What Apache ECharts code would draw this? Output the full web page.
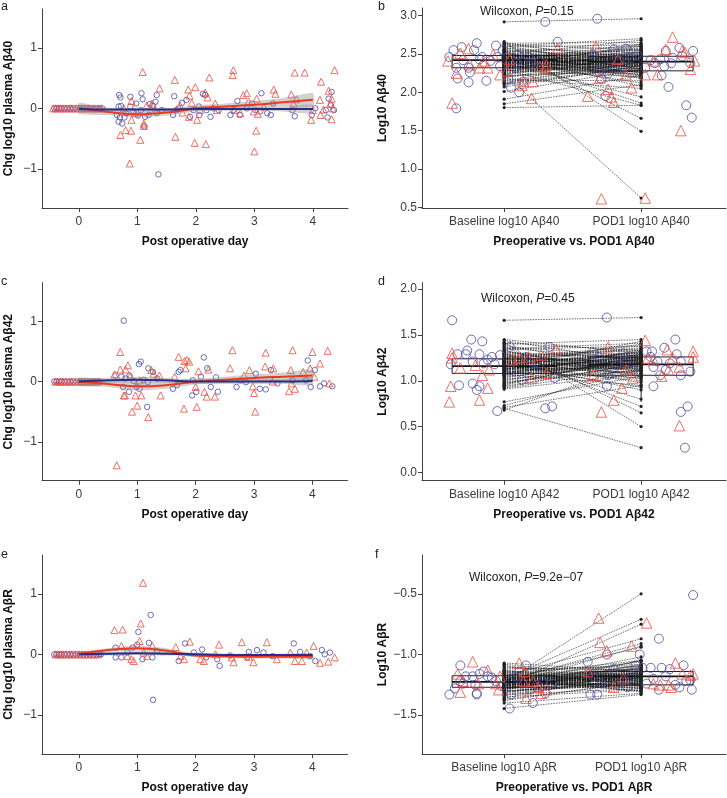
<!DOCTYPE html>
<html><head><meta charset="utf-8">
<script src="https://cdn.jsdelivr.net/npm/echarts@6/dist/echarts.min.js"></script>
<style>html,body{margin:0;padding:0;background:#fff}#c{width:727px;height:798px}</style>
</head><body><div id="c"></div>
<script>
// ---------------- DATA ----------------
const dayTicks = [0, 1, 2, 3, 4];
const leftYTicks = [-1, 0, 1];
const leftYTitles = ['Chg log10 plasma Aβ40', 'Chg log10 plasma Aβ42', 'Chg log10 plasma AβR'];
const leftXTitle = 'Post operative day';
const panelLetters = ['a', 'b', 'c', 'd', 'e', 'f'];

// smoothing curves (day, fit, lower, upper)
const smoothDays = [0, 0.5, 1, 1.5, 2, 2.5, 3, 3.5, 4];
const redFitA = [0, -0.06, -0.10, -0.07, 0.0, 0.03, 0.06, 0.10, 0.14];
const redLoA = [-0.09, -0.11, -0.15, -0.12, -0.05, -0.02, 0.0, 0.03, 0.03];
const redHiA = [0.09, -0.01, -0.05, -0.02, 0.05, 0.08, 0.12, 0.17, 0.25];
const blueFitA = [-0.01, -0.02, -0.02, -0.02, -0.01, -0.01, -0.01, -0.01, -0.01];
const blueLoA = [-0.06, -0.05, -0.05, -0.05, -0.04, -0.04, -0.04, -0.05, -0.08];
const blueHiA = [0.04, 0.01, 0.01, 0.01, 0.02, 0.02, 0.02, 0.03, 0.06];

const redFitC = [0, -0.04, -0.08, -0.06, 0.0, 0.03, 0.06, 0.08, 0.10];
const redLoC = [-0.07, -0.09, -0.15, -0.12, -0.05, -0.02, 0.0, 0.01, 0.0];
const redHiC = [0.07, 0.01, -0.01, 0.0, 0.05, 0.08, 0.12, 0.15, 0.20];
const blueFitC = [0, 0.02, 0.03, 0.02, 0.0, 0.0, 0.0, 0.0, 0.01];
const blueLoC = [-0.05, -0.02, -0.02, -0.02, -0.04, -0.04, -0.04, -0.04, -0.06];
const blueHiC = [0.05, 0.06, 0.08, 0.06, 0.04, 0.04, 0.04, 0.04, 0.08];

const redFitE = [0, 0.07, 0.10, 0.06, -0.02, -0.03, -0.04, -0.04, -0.04];
const redLoE = [-0.03, 0.04, 0.06, 0.02, -0.05, -0.06, -0.07, -0.07, -0.08];
const redHiE = [0.03, 0.10, 0.14, 0.10, 0.01, 0.0, -0.01, -0.01, 0.0];
const blueFitE = [0, 0.01, 0.02, 0.01, 0, -0.01, -0.01, -0.01, -0.01];
const blueLoE = [-0.02, -0.02, -0.01, -0.02, -0.03, -0.03, -0.03, -0.03, -0.04];
const blueHiE = [0.02, 0.04, 0.05, 0.04, 0.03, 0.01, 0.01, 0.01, 0.02];

// scatter points (day, change)
const circA = [[-0.42,0],[-0.38,0],[-0.34,0],[-0.3,0],[-0.25,0],[-0.2,0],[-0.15,0],[-0.1,0],[-0.04,0],[0.02,0],[0.08,0],[0.13,0],[0.19,0],[0.25,0],[0.3,0],[0.35,0],[0.4,0],
 [0.69,0.22],[0.71,0.18],[0.68,0.03],[0.72,0.04],[0.65,-0.11],[0.68,-0.22],[0.74,-0.25],[0.70,-0.15],[0.78,-0.15],[0.88,0.19],[0.88,0.03],[0.93,-0.05],[0.98,0.08],[1.07,0.25],[1.09,0.15],[1.06,-0.03],[1.13,-0.14],[1.12,-0.30],[1.19,-0.11],[1.21,0.07],[1.27,0.04],[1.33,0.22],[1.31,0.11],[1.36,-1.09],[1.33,-0.08],[1.42,-0.03],[0.81,-0.08],[1.01,-0.12],
 [1.63,0.20],[1.67,-0.03],[1.61,-0.11],[1.76,0.09],[1.84,0.14],[1.90,-0.14],[2.05,0.03],[2.06,-0.11],[2.12,0.24],[2.16,0.22],[2.18,-0.03],[2.25,-0.14],[2.30,0],[2.39,-0.03],[1.96,-0.03],[1.70,0],
 [2.64,-0.03],[2.71,0.12],[2.75,-0.11],[2.87,0],[2.96,0.08],[3.12,0.25],[3.10,-0.05],[3.22,-0.08],[3.28,-0.11],[3.32,0.08],[2.59,-0.11],[3.02,-0.03],
 [3.65,-0.03],[3.69,-0.13],[3.98,-0.11],[4.22,-0.03],[4.27,0.16],[4.32,0.27],[4.31,0.05],[4.25,-0.15],[4.36,-0.03],[4.04,0]];
const triA = [[-0.44,0],[-0.4,0],[-0.36,0],[-0.31,0],[-0.27,0],[-0.22,0],[-0.16,0],[-0.12,0],[-0.06,0],[0.0,0],[0.05,0],[0.1,0],[0.16,0],[0.22,0],[0.27,0],[0.33,0],[0.38,0],
 [1.09,0.60],[0.71,-0.44],[0.87,-0.91],[0.80,-0.36],[0.89,-0.37],[1.05,-0.52],[1.11,-0.25],[1.11,-0.29],[0.90,-0.19],[0.90,0.12],[0.77,0],[1.38,0.33],[1.25,0.08],[1.16,0.05],[1.30,-0.03],[0.96,-0.08],
 [1.64,0.47],[1.65,-0.47],[1.98,-0.57],[2.17,-0.59],[2.23,0.51],[1.99,0.35],[1.87,0.31],[1.89,0.21],[2.16,0.26],[2.20,0.18],[2.02,-0.19],[1.88,-0.14],[1.73,0.05],[1.93,0.09],[2.33,0.08],[2.07,-0.03],[2.36,-0.03],[1.77,-0.07],
 [2.64,0.63],[2.63,0.55],[3.0,-0.71],[3.03,-0.37],[2.87,0.25],[2.81,0.22],[3.04,0.16],[3.33,0.31],[3.36,0.24],[2.90,0.11],[2.99,-0.05],[3.06,-0.09],[2.66,-0.03],[3.16,0.03],[2.76,-0.08],
 [3.69,0.59],[3.86,0.59],[4.37,0.63],[4.14,0.44],[4.27,0.29],[4.32,0.16],[4.12,0.14],[3.63,0.23],[3.72,0.15],[3.97,-0.19],[4.32,-0.18],[4.13,-0.11],[4.18,-0.02],[4.34,0],[4.0,-0.03],[3.67,0.08],[4.30,0.08]];

const circC = [[-0.42,0],[-0.38,0],[-0.34,0],[-0.3,0],[-0.25,0],[-0.2,0],[-0.15,0],[-0.1,0],[-0.04,0],[0.02,0],[0.08,0],[0.13,0],[0.19,0],[0.25,0],[0.3,0],[0.35,0],
 [0.77,1.01],[1.17,-0.42],[2.14,0.40],[1.06,0.33],[1.03,0.29],[1.19,0.22],[1.27,0.16],[0.63,0.10],[0.73,0.08],[0.80,0.05],[0.87,0.10],[0.94,0.01],[0.99,-0.09],[0.86,-0.17],[0.76,-0.09],[1.11,0.03],[1.18,-0.01],[1.04,-0.12],[1.34,0.05],
 [1.71,0.16],[1.74,0.19],[1.61,-0.12],[1.68,-0.06],[1.94,-0.23],[2.01,-0.17],[1.95,0.02],[2.09,0.08],[2.20,0.22],[2.26,-0.09],[2.38,-0.17],[2.35,0.07],
 [2.70,-0.09],[2.86,-0.01],[3.03,0.13],[3.10,-0.12],[3.20,-0.13],[3.29,0.19],[3.40,-0.03],[2.77,0.02],
 [3.92,0.35],[4.04,0.19],[3.97,-0.09],[4.13,-0.08],[4.20,-0.03],[4.34,-0.08],[3.89,0.02],[3.66,0.02]];
const triC = [[-0.4,0],[-0.36,0],[-0.31,0],[-0.27,0],[-0.22,0],[-0.16,0],[-0.12,0],[-0.06,0],[0.0,0],[0.05,0],[0.1,0],[0.16,0],[0.22,0],[0.27,0],[0.33,0],
 [0.65,-1.39],[0.71,0.49],[0.61,0.12],[0.71,0.20],[0.84,0.27],[0.80,0.20],[0.77,-0.23],[0.79,-0.23],[0.91,-0.50],[1.00,-0.40],[0.97,-0.23],[1.07,-0.23],[1.19,-0.59],[1.24,0.19],[1.28,0.13],[1.40,-0.23],[1.04,0.02],[0.88,0.08],[1.38,0.10],
 [1.71,0.41],[1.81,0.34],[1.85,0.36],[1.89,0.33],[1.83,0.22],[1.80,-0.45],[2.02,-0.42],[2.05,0.17],[2.22,0.20],[2.19,-0.25],[2.33,-0.25],[2.15,-0.17],[2.0,-0.09],[1.64,0.08],
 [2.63,0.52],[2.59,0.22],[2.92,0.19],[3.02,-0.50],[3.0,-0.19],[3.2,0.48],[3.19,0.25],[3.33,0.22],[2.83,0.10],[2.98,-0.08],[3.32,0.0],
 [3.66,0.52],[4.0,0.49],[4.26,0.51],[4.13,0.30],[3.96,0.22],[3.63,0.19],[3.60,-0.16],[3.70,-0.12],[3.84,0.16],[4.03,0.08],[4.29,-0.03],[3.64,-0.03]];

const circE = [[-0.42,0],[-0.38,0],[-0.34,0],[-0.3,0],[-0.25,0],[-0.2,0],[-0.15,0],[-0.1,0],[-0.04,0],[0.02,0],[0.08,0],[0.13,0],[0.19,0],[0.25,0],[0.3,0],[0.35,0],[0.38,0],
 [1.23,0.65],[1.27,-0.75],[1.02,0.37],[1.00,0.16],[1.20,0.19],[0.63,0.11],[0.63,-0.05],[0.73,-0.05],[0.92,0.11],[1.09,-0.08],[1.26,-0.05],[1.34,0.05],[0.83,0.03],
 [1.82,0.18],[1.71,-0.11],[1.97,0.03],[2.11,0.08],[2.18,-0.05],[2.41,-0.19],[2.37,-0.08],
 [2.59,-0.02],[2.91,0.04],[3.05,0.07],[3.16,0.03],[3.32,-0.03],[2.88,-0.05],
 [3.68,0.18],[3.79,0.04],[4.16,0.07],[4.21,0],[4.30,0.03],[4.05,-0.11],[3.96,-0.03]];
const triE = [[-0.4,0],[-0.36,0],[-0.31,0],[-0.27,0],[-0.22,0],[-0.16,0],[-0.12,0],[-0.06,0],[0.0,0],[0.05,0],[0.1,0],[0.16,0],[0.22,0],[0.27,0],[0.33,0],
 [1.10,1.18],[1.06,0.51],[0.61,0.40],[0.75,0.41],[1.04,0.22],[0.73,0.14],[0.90,-0.08],[0.94,-0.11],[0.83,-0.03],[1.11,0.03],[1.26,0.14],[1.17,-0.03],
 [1.66,0.12],[1.90,0.21],[1.80,-0.08],[1.74,-0.03],[2.08,-0.08],[2.14,-0.11],[2.40,0.16],[2.34,0],
 [2.62,-0.05],[2.65,-0.13],[2.79,0.20],[2.99,-0.13],[3.22,0.20],[3.39,-0.08],[2.91,-0.04],
 [4.02,0.14],[3.70,-0.11],[3.82,-0.11],[4.13,-0.14],[4.27,-0.12],[4.38,-0.05],[3.90,0.03],[3.62,0.03]];

// right panels
const catLabelsB = ['Baseline log10 Aβ40', 'POD1 log10 Aβ40'];
const catLabelsD = ['Baseline log10 Aβ42', 'POD1 log10 Aβ42'];
const catLabelsF = ['Baseline log10 AβR', 'POD1 log10 AβR'];
const rightXTitles = ['Preoperative vs. POD1 Aβ40', 'Preoperative vs. POD1 Aβ42', 'Preoperative vs. POD1 AβR'];
const rightYTitles = ['Log10 Aβ40', 'Log10 Aβ42', 'Log10 AβR'];
const pLabels = ['0.15', '0.45', '9.2e−07'];
const yTicksB = [0.5, 1.0, 1.5, 2.0, 2.5, 3.0];
const yTicksD = [0.0, 0.5, 1.0, 1.5, 2.0];
const yTicksF = [-1.5, -1.0, -0.5];

// box stats: [min, q1, median, q3, max] for baseline, POD1
const boxB = [[2.07, 2.32, 2.42, 2.48, 2.67], [2.04, 2.28, 2.40, 2.47, 2.70]];
const boxD = [[0.89, 1.08, 1.16, 1.24, 1.45], [0.77, 1.06, 1.18, 1.26, 1.46]];
const boxF = [[-1.40, -1.27, -1.225, -1.175, -1.07], [-1.33, -1.25, -1.18, -1.14, -1.02]];

// paired values (baseline, POD1)
const baseB = [2.92,2.24,2.07,2.01,1.91,1.85,1.80,2.66,2.55,2.45,2.38,2.30,
 2.62,2.60,2.58,2.57,2.55,2.53,2.52,2.50,2.49,2.48,2.48,2.47,2.46,2.46,2.45,2.44,2.44,2.43,2.43,2.42,2.42,2.41,2.41,2.41,2.40,2.40,2.39,2.39,2.38,2.37,2.36,2.35,2.34,2.33,2.32,2.32,2.31,2.30,2.28,2.26,2.24,2.22,2.20,2.18,2.15,2.12,2.10,2.64,2.47,2.36,2.29,
 2.65,2.63,2.61,2.59,2.56,2.54,2.51,2.50,2.49,2.47,2.46,2.45,2.44,2.43,2.42,2.41,2.40,2.39,2.38,2.37,2.36,2.35,2.34,2.33,2.31,2.29,2.27,2.25,2.23,2.21,2.19,2.16,2.13,2.11,2.52,2.48,2.44,2.40,2.36,2.32,2.28,2.45,2.42,2.38,2.34];
const podB = [2.96,0.62,2.35,2.30,2.22,2.10,1.83,1.49,1.66,1.86,1.94,1.83,
 2.45,2.70,2.38,2.52,2.31,2.60,2.44,2.28,2.47,2.55,2.36,2.40,2.21,2.50,2.33,2.42,2.58,2.26,2.46,2.39,2.18,2.49,2.35,2.43,2.12,2.41,2.53,2.30,2.45,2.27,2.48,2.37,2.62,2.40,2.24,2.44,2.34,2.51,2.42,2.38,2.46,2.29,2.36,2.05,2.43,2.39,2.32,2.65,2.08,2.47,2.20,
 2.38,2.55,2.30,2.62,2.41,2.48,2.25,2.36,2.68,2.44,2.19,2.52,2.40,2.33,2.57,2.46,2.27,2.50,2.42,2.35,2.60,2.23,2.47,2.39,2.44,2.31,2.53,2.37,2.43,2.28,2.49,2.15,2.40,2.34,2.22,2.45,2.38,2.56,2.41,2.47,2.35,2.30,2.63,2.44,2.26];
const baseD = [1.66,0.70,0.77,0.73,0.71,0.68,1.42,1.38,1.30,1.25,1.20,
 1.45,1.40,1.36,1.34,1.32,1.30,1.28,1.27,1.26,1.25,1.24,1.23,1.22,1.21,1.20,1.19,1.18,1.17,1.16,1.16,1.15,1.14,1.13,1.12,1.11,1.10,1.09,1.08,1.07,1.05,1.03,1.01,0.99,0.97,0.95,0.93,0.91,1.19,1.24,1.13,1.06,1.29,1.17,
 1.44,1.41,1.39,1.37,1.35,1.33,1.31,1.29,1.27,1.26,1.24,1.23,1.22,1.21,1.20,1.19,1.18,1.17,1.16,1.15,1.14,1.13,1.12,1.11,1.10,1.09,1.08,1.06,1.04,1.02,1.00,0.98,0.96,0.94,0.92,1.25,1.21,1.17,1.13,1.09];
const podD = [1.69,0.27,1.05,1.12,0.95,1.20,0.50,0.65,0.72,0.80,0.90,
 1.30,1.45,1.22,1.38,1.10,1.25,1.33,1.15,1.28,1.20,1.02,1.24,1.35,1.12,1.27,1.08,1.21,1.30,1.17,1.00,1.23,1.19,1.26,1.14,1.32,1.18,1.22,1.29,0.95,1.16,1.25,1.20,1.11,1.24,1.28,1.19,1.07,1.40,1.13,1.23,1.21,1.04,1.31,
 1.20,1.33,1.12,1.27,1.41,1.05,1.24,1.18,1.30,1.10,1.36,1.22,1.15,1.28,0.98,1.25,1.19,1.32,1.08,1.23,1.43,1.14,1.26,1.20,1.03,1.29,1.17,1.34,1.21,1.11,1.24,1.16,1.27,1.19,1.13,1.38,1.22,0.93,1.26,1.18];
const baseF = [-1.23,-1.20,-1.26,-1.18,-1.22,-1.25,-1.21,-1.28,-1.445,
 -1.07,-1.10,-1.12,-1.14,-1.15,-1.16,-1.17,-1.18,-1.18,-1.19,-1.20,-1.20,-1.21,-1.21,-1.22,-1.22,-1.23,-1.23,-1.24,-1.24,-1.25,-1.25,-1.26,-1.26,-1.27,-1.27,-1.28,-1.29,-1.30,-1.31,-1.32,-1.33,-1.35,-1.37,-1.40,-1.19,-1.22,-1.24,-1.16,-1.29,-1.13,-1.26,-1.20,
 -1.08,-1.09,-1.11,-1.13,-1.15,-1.17,-1.19,-1.20,-1.21,-1.22,-1.23,-1.24,-1.25,-1.26,-1.27,-1.28,-1.29,-1.30,-1.31,-1.33,-1.34,-1.36,-1.38,-1.18,-1.21,-1.23,-1.25,-1.27,-1.22,-1.20,-1.24,-1.26,-1.16,-1.28,-1.19,-1.23,-1.21,-1.25,-1.30,-1.14];
const podF = [-0.50,-0.71,-0.75,-0.87,-0.91,-0.93,-0.94,-1.05,-1.33,
 -1.14,-1.20,-1.10,-1.25,-1.17,-1.22,-1.05,-1.19,-1.28,-1.12,-1.23,-1.16,-1.30,-1.18,-1.09,-1.21,-1.15,-1.26,-1.19,-1.02,-1.24,-1.17,-1.20,-1.13,-1.27,-1.18,-1.22,-1.11,-1.25,-1.21,-1.16,-1.19,-1.29,-1.23,-1.32,-1.20,-1.14,-1.24,-1.18,-1.08,-1.26,-1.15,-1.21,
 -1.19,-1.26,-1.13,-1.22,-1.08,-1.24,-1.17,-1.30,-1.12,-1.20,-1.27,-1.15,-1.21,-1.05,-1.18,-1.25,-1.10,-1.23,-1.16,-1.28,-1.19,-1.14,-1.22,-1.31,-1.06,-1.17,-1.24,-1.20,-1.12,-1.26,-1.18,-1.09,-1.23,-1.15,-1.21,-1.28,-1.11,-1.19,-1.25,-1.16];

// jittered points (jittered group position, value)
const jCircB = [[0.60,2.46],[0.63,2.55],[0.65,2.32],[0.66,2.18],[0.69,2.59],[0.70,2.42],[0.74,2.32],[0.74,2.13],[0.75,2.26],[0.78,2.55],[0.80,2.64],[0.82,2.43],[0.84,2.46],[0.87,2.15],[0.90,2.41],[0.94,2.61],[0.95,2.46],[0.97,2.34],[0.99,2.55],[1.03,2.17],[1.05,2.06],[1.08,2.32],[1.10,2.49],[1.11,2.00],[1.14,2.14],[1.18,2.46],[1.20,2.38],[1.30,2.92],[1.39,2.66],[0.65,1.79],[1.26,2.41],[1.09,2.38],
 [1.68,2.96],[1.65,2.49],[1.69,2.27],[1.71,2.17],[1.74,1.95],[1.76,2.25],[1.78,2.43],[1.80,2.56],[1.84,2.41],[1.87,2.34],[1.89,2.57],[1.93,2.45],[1.97,2.49],[2.03,2.32],[2.07,2.42],[2.10,2.38],[2.14,2.43],[2.15,2.22],[2.17,2.34],[2.18,2.54],[2.20,2.07],[2.22,2.38],[2.28,2.58],[2.30,2.47],[2.33,1.83],[2.37,1.67],[2.38,2.54],[2.36,2.38],[2.23,2.45]];
const jTriB = [[0.59,2.41],[0.62,1.86],[0.65,2.25],[0.68,2.51],[0.74,2.57],[0.75,2.36],[0.82,2.32],[0.85,2.41],[0.88,2.32],[0.92,2.49],[0.97,2.23],[1.02,2.28],[1.04,2.43],[1.13,2.09],[1.14,2.14],[1.20,1.92],[1.21,2.14],[1.26,2.34],[1.31,2.36],[1.39,2.57],[1.30,2.32],
 [1.61,1.95],[1.67,2.60],[1.71,0.61],[1.70,2.19],[1.76,2.04],[1.78,1.94],[1.80,1.87],[1.83,2.43],[1.89,2.23],[1.93,2.06],[2.03,0.62],[2.03,2.23],[2.09,2.41],[2.12,2.23],[2.18,2.56],[2.23,2.72],[2.29,1.50],[2.30,2.54],[2.32,2.52],[2.36,2.30],[2.39,2.41]];
const jCircD = [[0.62,1.66],[0.61,1.18],[0.67,0.95],[0.66,1.29],[0.72,1.29],[0.73,1.33],[0.76,1.45],[0.77,0.97],[0.77,1.21],[0.80,0.90],[0.82,1.29],[0.82,0.94],[0.84,1.43],[0.85,1.19],[0.88,1.23],[0.91,1.26],[0.93,1.18],[0.95,0.67],[0.97,1.28],[1.04,1.37],[1.05,1.12],[1.13,1.01],[1.21,1.12],[1.30,0.70],[1.35,0.72],[1.33,1.37],[1.37,1.03],[1.26,1.19],[1.16,1.26],
 [1.75,1.69],[1.65,1.31],[1.69,1.26],[1.75,0.94],[1.76,1.06],[1.82,1.17],[1.87,1.30],[1.89,1.21],[1.94,1.12],[2.04,1.32],[2.07,1.26],[2.08,1.32],[2.09,0.94],[2.12,1.21],[2.14,1.06],[2.17,1.36],[2.18,1.12],[2.25,1.45],[2.26,1.29],[2.29,1.06],[2.29,0.66],[2.32,0.27],[2.34,0.72],[2.36,1.10],[2.29,1.21],[2.09,1.15],[2.21,1.19]];
const jTriD = [[0.62,1.30],[0.62,1.25],[0.61,0.94],[0.60,0.77],[0.68,1.14],[0.79,1.17],[0.82,0.79],[0.84,1.06],[0.88,0.92],[0.89,1.12],[1.06,1.23],[1.11,1.25],[1.18,1.26],[1.20,1.03],[1.27,1.28],[1.38,1.34],[1.31,1.08],
 [1.71,0.66],[1.76,1.37],[1.80,0.79],[1.86,0.92],[1.65,1.06],[1.89,1.12],[1.94,1.03],[2.03,1.44],[2.05,1.25],[2.09,1.23],[2.15,1.05],[2.19,1.34],[2.20,1.12],[2.23,1.25],[2.28,0.51],[2.28,1.15],[2.38,1.32],[2.38,1.26]];
const jCircF = [[0.60,-1.33],[0.64,-1.28],[0.68,-1.09],[0.68,-1.22],[0.70,-1.24],[0.72,-1.18],[0.77,-1.18],[0.79,-1.25],[0.80,-1.32],[0.80,-1.33],[0.82,-1.16],[0.85,-1.14],[0.88,-1.18],[0.91,-1.19],[0.94,-1.22],[0.98,-1.26],[1.04,-1.445],[1.05,-1.33],[1.08,-1.18],[1.11,-1.14],[1.13,-1.24],[1.16,-1.09],[1.19,-1.29],[1.21,-1.40],[1.24,-1.25],[1.28,-1.22],[1.30,-1.32],[1.35,-1.24],
 [1.63,-1.33],[1.68,-1.33],[1.61,-1.06],[1.65,-1.18],[1.71,-1.24],[1.75,-1.00],[1.80,-1.12],[1.83,-1.24],[1.90,-1.27],[1.93,-1.18],[1.96,-1.09],[1.99,-1.00],[2.01,-1.11],[2.04,-1.24],[2.07,-1.11],[2.09,-1.20],[2.13,-0.87],[2.13,-1.29],[2.15,-1.11],[2.18,-1.18],[2.21,-1.12],[2.25,-1.25],[2.28,-1.27],[2.31,-1.09],[2.36,-1.21],[2.38,-0.51],[2.37,-1.29],[2.33,-1.22]];
const jTriF = [[0.77,-1.06],[0.68,-1.31],[0.66,-1.16],[0.70,-1.22],[0.81,-1.24],[0.88,-1.13],[0.94,-1.24],[0.96,-1.29],[0.97,-1.18],[1.11,-1.07],[1.15,-1.14],[1.16,-1.36],[1.21,-1.22],[1.25,-1.27],[1.27,-1.32],[1.31,-1.29],[1.14,-1.22],
 [1.69,-0.70],[1.70,-0.90],[1.75,-0.97],[1.93,-0.93],[2.04,-0.74],[1.61,-1.14],[1.80,-1.27],[1.87,-1.20],[2.09,-1.24],[2.14,-1.25],[2.20,-1.25],[2.25,-1.07],[2.30,-1.16],[2.36,-1.17],[2.38,-1.16],[2.22,-1.27]];

// ---------------- STYLE / BUILD ----------------
const FONT = '"Liberation Sans", Arial, Helvetica, sans-serif';
const AX = '#404040';
const RED = '#f04b3c', BLUE = '#4a4aa6';
const RED_LINE = '#ee3a1c', BLUE_LINE = '#2b2b88';
const minusFmt = d => v => (v < 0 ? '\u2212' : '') + Math.abs(v).toFixed(d);

const grids = [
  {left: 42, top: 9, width: 306, height: 199},
  {left: 422, top: 8, width: 304, height: 200},
  {left: 42, top: 282.7, width: 305.5, height: 198},
  {left: 422, top: 282.7, width: 304, height: 198},
  {left: 42, top: 555, width: 305.5, height: 199},
  {left: 422, top: 555, width: 304, height: 199}
].map(g => Object.assign(g, {containLabel: false, outerBoundsMode: 'none'}));

const nameStyle = {color: '#111', fontSize: 12, fontWeight: 'bold', fontFamily: FONT};
const labelStyle = {color: '#3a3a3a', fontSize: 12, fontFamily: FONT};

function axis(gi, min, max, ticks, fmt, name, gap, isY) {
  return {
    type: 'value', gridIndex: gi, min: min, max: max,
    name: name, nameLocation: 'middle', nameGap: gap, nameRotate: isY ? 90 : 0,
    nameTextStyle: nameStyle,
    axisLine: {show: true, onZero: false, lineStyle: {color: AX, width: 1}},
    axisTick: {show: true, customValues: ticks, length: 4, lineStyle: {color: AX, width: 1}},
    axisLabel: Object.assign({show: true, customValues: ticks, margin: isY ? 5 : 7.5, formatter: fmt}, labelStyle),
    splitLine: {show: false}
  };
}

const xAxes = [], yAxes = [], series = [];

function band(gi, xs, lo, hi) {
  return {
    type: 'custom', xAxisIndex: gi, yAxisIndex: gi, silent: true, z: 4, clip: true,
    data: xs.map((x, k) => [x, lo[k], hi[k]]),
    encode: {x: 0, y: [1, 2]},
    renderItem: (params, api) => {
      if (params.dataIndex !== 0) return null;
      const pts = [];
      for (let k = 0; k < xs.length; k++) pts.push(api.coord([xs[k], hi[k]]));
      for (let k = xs.length - 1; k >= 0; k--) pts.push(api.coord([xs[k], lo[k]]));
      return {type: 'polygon', shape: {points: pts, smooth: 0.2}, style: {fill: 'rgba(140,140,140,0.4)'}};
    }
  };
}
function smoothLine(gi, xs, ys, color) {
  return {type: 'line', xAxisIndex: gi, yAxisIndex: gi, data: xs.map((x, k) => [x, ys[k]]),
    smooth: 0.35, symbol: 'none', z: 5, lineStyle: {color: color, width: 2}, silent: true};
}
function scat(gi, pts, sym, color, size, z) {
  return {type: 'scatter', xAxisIndex: gi, yAxisIndex: gi, data: pts, symbol: sym, symbolSize: size, z: z || 2,
    itemStyle: {color: 'rgba(255,255,255,0)', borderColor: color, borderWidth: 1}, silent: true};
}

function leftPanel(gi, ytitle, circ, tri, rf, rl, rh, bf, bl, bh) {
  xAxes.push(axis(gi, -0.63, 4.6, dayTicks, v => String(v), leftXTitle, 28, false));
  yAxes.push(axis(gi, -1.645, 1.64, leftYTicks, minusFmt(0), ytitle, 27, true));
  series.push(scat(gi, circ, 'circle', BLUE, 5.5));
  series.push(scat(gi, tri, 'triangle', RED, 7));
  series.push(band(gi, smoothDays, rl, rh));
  series.push(band(gi, smoothDays, bl, bh));
  series.push(smoothLine(gi, smoothDays, rf, RED_LINE));
  series.push(smoothLine(gi, smoothDays, bf, BLUE_LINE));
}

function rightPanel(gi, ymin, ymax, yticks, ytitle, xtitle, cats, boxes, base, pod, jc, jt) {
  xAxes.push(axis(gi, 0.4, 2.62, [1, 2], v => cats[Math.round(v) - 1], xtitle, 28, false));
  yAxes.push(axis(gi, ymin, ymax, yticks, minusFmt(1), ytitle, 33, true));
  series.push({
    type: 'custom', xAxisIndex: gi, yAxisIndex: gi, silent: true, z: 2,
    data: boxes.map((b, k) => [k + 1].concat(b)),
    encode: {x: 0, y: [1, 2, 3, 4, 5]},
    renderItem: (params, api) => {
      const x = api.value(0), hw = 0.38;
      const mn = api.value(1), q1 = api.value(2), md = api.value(3), q3 = api.value(4), mx = api.value(5);
      const tl = api.coord([x - hw, q3]), br = api.coord([x + hw, q1]);
      const ml = api.coord([x - hw, md]), mr = api.coord([x + hw, md]);
      const c1 = api.coord([x, q3]), c2 = api.coord([x, mx]), c3 = api.coord([x, q1]), c4 = api.coord([x, mn]);
      const st = {stroke: '#222', lineWidth: 1, fill: null};
      return {type: 'group', children: [
        {type: 'rect', shape: {x: tl[0], y: tl[1], width: br[0] - tl[0], height: br[1] - tl[1]}, style: {stroke: '#222', lineWidth: 1, fill: 'rgba(255,255,255,0)'}},
        {type: 'line', shape: {x1: ml[0], y1: ml[1], x2: mr[0], y2: mr[1]}, style: {stroke: '#111', lineWidth: 1.8}},
        {type: 'line', shape: {x1: c1[0], y1: c1[1], x2: c2[0], y2: c2[1]}, style: st},
        {type: 'line', shape: {x1: c3[0], y1: c3[1], x2: c4[0], y2: c4[1]}, style: st}
      ]};
    }
  });
  const n = Math.min(base.length, pod.length);
  series.push({
    type: 'custom', xAxisIndex: gi, yAxisIndex: gi, silent: true, z: 3,
    data: base.slice(0, n).map((b, k) => [1, b, 2, pod[k]]),
    encode: {x: [0, 2], y: [1, 3]},
    renderItem: (params, api) => {
      const p1 = api.coord([api.value(0), api.value(1)]), p2 = api.coord([api.value(2), api.value(3)]);
      return {type: 'group', children: [
        {type: 'line', shape: {x1: p1[0], y1: p1[1], x2: p2[0], y2: p2[1]}, style: {stroke: 'rgba(20,20,20,0.85)', lineWidth: 0.7, lineDash: [1.6, 1]}},
        {type: 'circle', shape: {cx: p1[0], cy: p1[1], r: 1.6}, style: {fill: '#222'}},
        {type: 'circle', shape: {cx: p2[0], cy: p2[1], r: 1.6}, style: {fill: '#222'}}
      ]};
    }
  });
  series.push(scat(gi, jc, 'circle', BLUE, 9, 6));
  series.push(scat(gi, jt, 'triangle', RED, 10.5, 6));
}

leftPanel(0, leftYTitles[0], circA, triA, redFitA, redLoA, redHiA, blueFitA, blueLoA, blueHiA);
rightPanel(1, 0.49, 3.10, yTicksB, rightYTitles[0], rightXTitles[0], catLabelsB, boxB, baseB, podB, jCircB, jTriB);
leftPanel(2, leftYTitles[1], circC, triC, redFitC, redLoC, redHiC, blueFitC, blueLoC, blueHiC);
rightPanel(3, -0.09, 2.07, yTicksD, rightYTitles[1], rightXTitles[1], catLabelsD, boxD, baseD, podD, jCircD, jTriD);
leftPanel(4, leftYTitles[2], circE, triE, redFitE, redLoE, redHiE, blueFitE, blueLoE, blueHiE);
rightPanel(5, -1.82, -0.18, yTicksF, rightYTitles[2], rightXTitles[2], catLabelsF, boxF, baseF, podF, jCircF, jTriF);

const letterPos = [[1, 0], [378, 0], [1, 275], [378, 275], [1, 548], [375, 548]];
const wilcoxPos = [[480, 6], [481, 292.5], [469, 571.5]];
const titles = panelLetters.map((t, i) => ({
  text: t, left: letterPos[i][0], top: letterPos[i][1], padding: 0,
  textStyle: {fontSize: 12.5, fontWeight: 'normal', color: '#222', fontFamily: FONT}
})).concat(pLabels.map((p, i) => ({
  text: '{n|Wilcoxon, }{i|P}{n|=' + p + '}', left: wilcoxPos[i][0], top: wilcoxPos[i][1], padding: 0,
  textStyle: {fontWeight: 'normal', fontSize: 12, color: '#222', fontFamily: FONT, rich: {
    n: {fontSize: 12, color: '#222', fontWeight: 'normal', fontFamily: FONT},
    i: {fontSize: 12, color: '#222', fontWeight: 'normal', fontStyle: 'italic', fontFamily: FONT}
  }}
})));

const chart = echarts.init(document.getElementById('c'), null, {renderer: 'canvas'});
chart.setOption({
  animation: false,
  backgroundColor: '#fff',
  title: titles,
  grid: grids,
  xAxis: xAxes,
  yAxis: yAxes,
  series: series
});
</script></body></html>
